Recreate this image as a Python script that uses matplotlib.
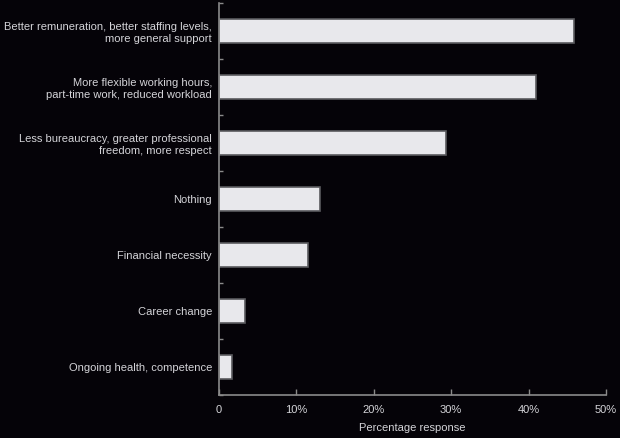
import numpy as np
import matplotlib
matplotlib.use("Agg")
import matplotlib.pyplot as plt

categories = [
    "Better remuneration, better staffing levels,\nmore general support",
    "More flexible working hours,\npart-time work, reduced workload",
    "Less bureaucracy, greater professional\nfreedom, more respect",
    "Nothing",
    "Financial necessity",
    "Career change",
    "Ongoing health, competence",
]
values = [45.9, 41.0, 29.3, 13.0, 11.5, 3.3, 1.7]
xticks = [0, 10, 20, 30, 40, 50]
xticklabels = ["0", "10%", "20%", "30%", "40%", "50%"]

bg = "#050308"
txt = "#d4d4d8"
spine = "#8a8a8a"
fs = 8.0

plt.rcParams["font.family"] = ["Liberation Sans", "DejaVu Sans"]

fig = plt.figure(figsize=(6.2, 4.38), dpi=100, facecolor=bg)
ax = fig.add_axes([0.3532, 0.0982, 0.6242, 0.895], facecolor=bg)

y = np.arange(len(categories))
ax.barh(y, values, height=0.42, color="#e8e8ec", edgecolor="#5a5a5e", linewidth=1.2)

ax.set_ylim(len(categories) - 0.5, -0.5)
ax.set_xlim(0, 50)

ax.set_yticks(y)
ax.set_yticklabels(categories, color=txt, fontsize=fs, ha="right")
ax.tick_params(axis="y", length=0, pad=5)
# small ticks between categories
ax.set_yticks(np.arange(-0.5, len(categories), 1), minor=True)
ax.tick_params(axis="y", which="minor", direction="in", length=3, color=spine, width=1)

ax.set_xticks(xticks)
ax.set_xticklabels(xticklabels, color=txt, fontsize=fs)
ax.tick_params(axis="x", direction="in", length=4, color=spine, width=1, pad=7)
ax.set_xlabel("Percentage response", color=txt, fontsize=fs, labelpad=6)

for s in ["top", "right"]:
    ax.spines[s].set_visible(False)
for s in ["left", "bottom"]:
    ax.spines[s].set_color(spine)
    ax.spines[s].set_linewidth(1.2)

fig.savefig("out.png", dpi=100, facecolor=bg)
